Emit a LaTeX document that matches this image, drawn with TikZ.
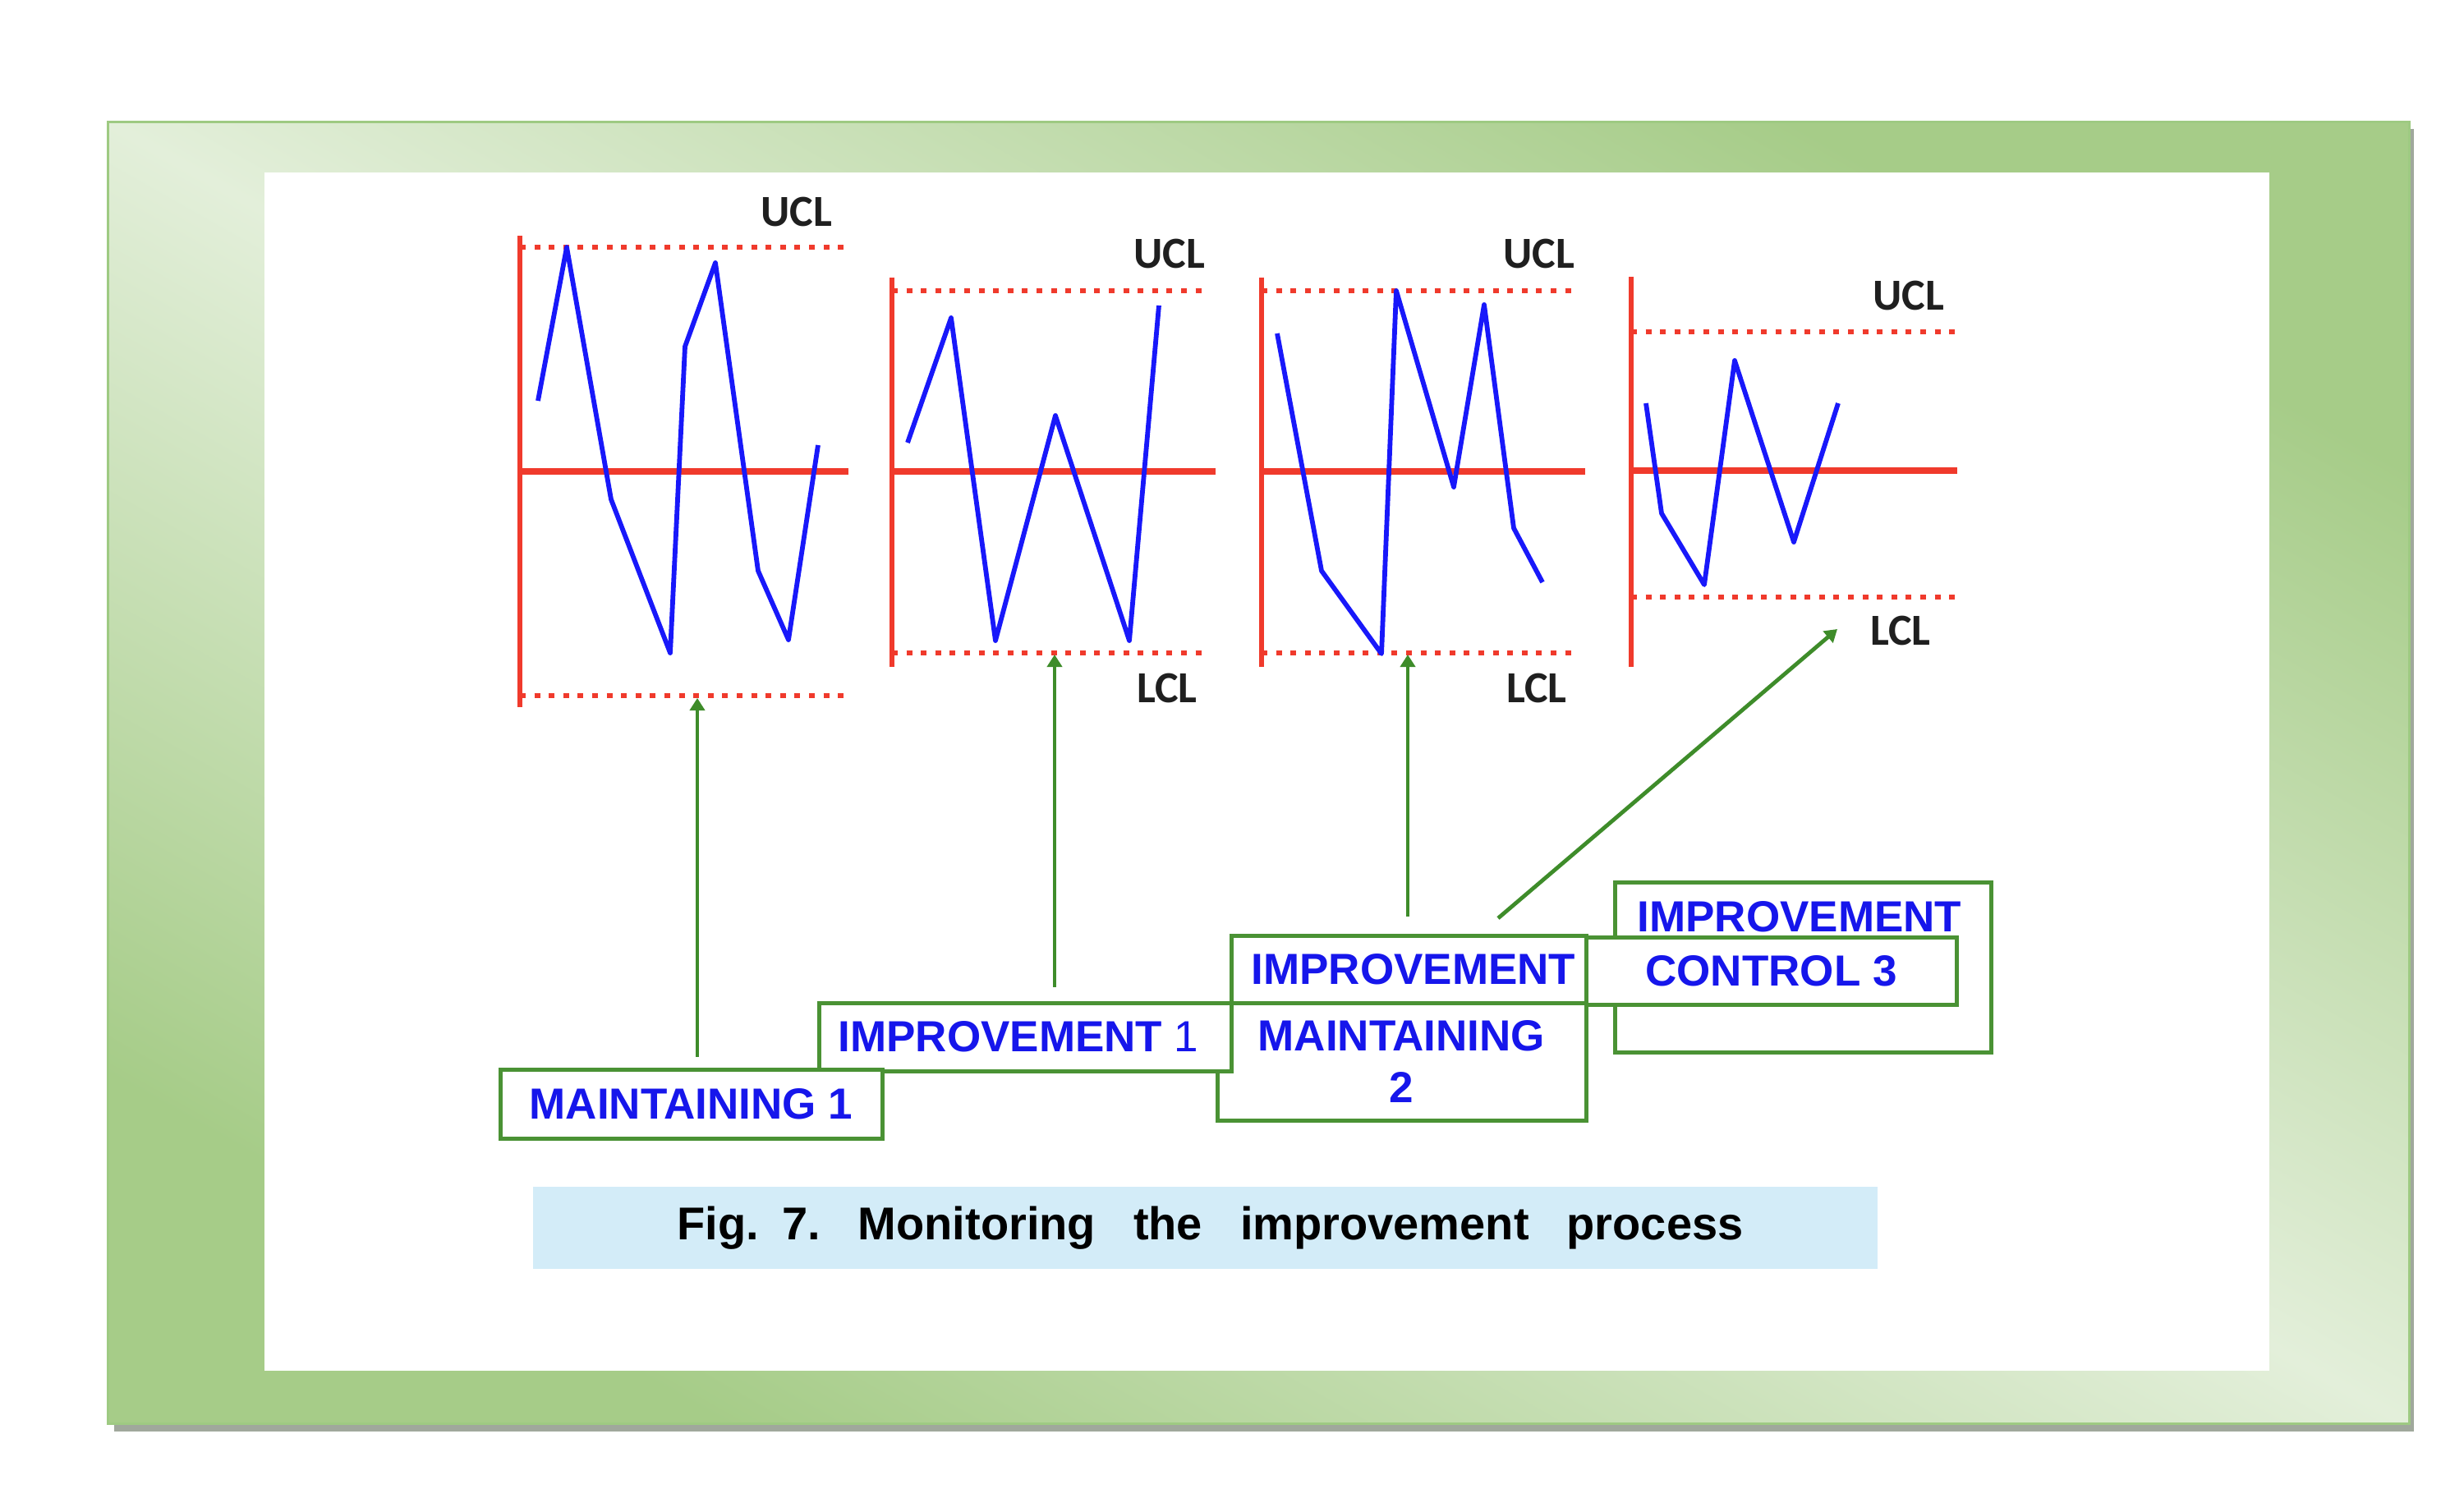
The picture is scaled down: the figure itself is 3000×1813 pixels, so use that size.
\documentclass[tikz,border=0pt]{standalone}
\usepackage{fontspec}
\setmainfont{Liberation Sans}
\newfontfamily\lblfont{Carlito}
\usetikzlibrary{arrows.meta}
\definecolor{frameL}{RGB}{227,239,218}
\definecolor{frameG}{RGB}{166,204,136}
\definecolor{frameB}{RGB}{158,202,130}
\definecolor{shadowC}{RGB}{160,168,156}
\definecolor{chartred}{RGB}{240,58,44}
\definecolor{chartblue}{RGB}{24,24,250}
\definecolor{boxgreen}{RGB}{74,146,52}
\definecolor{arrgreen}{RGB}{62,140,42}
\definecolor{txtblue}{RGB}{22,22,235}
\definecolor{capblue}{RGB}{211,236,248}
\pgfdeclareverticalshading{frameshade}{100bp}{color(0bp)=(frameG); color(25bp)=(frameG); color(50bp)=(frameL); color(75bp)=(frameG); color(100bp)=(frameG)}
\begin{document}
\begin{tikzpicture}[x=0.5pt,y=-0.5pt,
  redaxis/.style={draw=chartred,line width=3pt},
  redmid/.style={draw=chartred,line width=4pt},
  reddot/.style={draw=chartred,line width=3.4pt,dash pattern=on 3.5pt off 5.3pt},
  bluepath/.style={draw=chartblue,line width=2.9pt,line join=round},
  lim/.style={font=\lblfont\bfseries\fontsize{27}{32}\selectfont,text=black!88,inner sep=0pt},
  stage/.style={draw=boxgreen,line width=2.5pt,fill=white,inner sep=0pt,font=\bfseries\fontsize{26.5}{31.5}\selectfont,text=txtblue,align=center},
  conn/.style={draw=arrgreen,line width=2.4pt,-{Triangle[length=7.5pt,width=9pt]}},
]
\useasboundingbox (0,0) rectangle (3000,1813);
\fill[white] (0,0) rectangle (3000,1813);
% frame
\fill[shadowC] (139,157) rectangle (2939,1743);
\shade[shading=frameshade,shading angle=-29.5] (131,149) rectangle (2933,1733);
\draw[frameB,line width=1.5pt] (131,149) rectangle (2933,1733);
\fill[white] (322,210) rectangle (2763,1669);

% chart 1
\draw[reddot] (633,301) -- (1027,301);
\draw[reddot] (633,847) -- (1027,847);
\draw[redmid] (633,574) -- (1033,574);
\draw[redaxis] (633,287) -- (633,861);
\draw[bluepath] (655,488) -- (690,301) -- (744,608) -- (816,795) -- (834,422) -- (871,320) -- (923,695) -- (960,779) -- (996,542);
\node[lim] (u1) at (970,258) {UCL};

% chart 2
\draw[reddot] (1086,354) -- (1472,354);
\draw[reddot] (1086,795) -- (1472,795);
\draw[redmid] (1086,574) -- (1480,574);
\draw[redaxis] (1086,338) -- (1086,812);
\draw[bluepath] (1105,539) -- (1158,387) -- (1212,780) -- (1285,506) -- (1375,780) -- (1411,372);
\node[lim] (u2) at (1424,309) {UCL};
\node[lim] (l2) at (1421,838) {LCL};

% chart 3
\draw[reddot] (1536,354) -- (1923,354);
\draw[reddot] (1536,795) -- (1923,795);
\draw[redmid] (1536,574) -- (1930,574);
\draw[redaxis] (1536,338) -- (1536,812);
\draw[bluepath] (1555,406) -- (1609,695) -- (1682,796) -- (1700,354) -- (1770,593) -- (1807,371) -- (1843,643) -- (1878,709);
\node[lim] (u3) at (1874,309) {UCL};
\node[lim] (l3) at (1871,838) {LCL};

% chart 4
\draw[reddot] (1986,404) -- (2380,404);
\draw[reddot] (1986,727) -- (2380,727);
\draw[redmid] (1986,573) -- (2383,573);
\draw[redaxis] (1986,337) -- (1986,812);
\draw[bluepath] (2004,491) -- (2023,625) -- (2075,712) -- (2112,439) -- (2184,660) -- (2238,491);
\node[lim] (u4) at (2324,360) {UCL};
\node[lim] (l4) at (2314,768) {LCL};

% stage boxes
\node[stage,minimum width=224.5pt,minimum height=71.5pt] (m2) at (1706.5,1292.5) {MAINTAINING\\2};
\node[stage,minimum width=216pt,minimum height=41pt] (i2) at (1715,1180) {\hspace*{6pt}IMPROVEMENT};
\node[stage,minimum width=251pt,minimum height=41.5pt] (i1) at (1248,1262.5) {IMPROVEMENT {\mdseries 1}\hspace*{8pt}};
\node[stage,minimum width=232.5pt,minimum height=42pt] (m1) at (841.5,1344) {MAINTAINING 1};
\node[stage,minimum width=229pt,minimum height=103.5pt] (i3) at (2195,1177.5) {};
\node[font=\bfseries\fontsize{26.5}{31.5}\selectfont,text=txtblue,inner sep=0pt] (i3t) at (2191,1116) {IMPROVEMENT};
\node[stage,minimum width=225.5pt,minimum height=41pt] (c3) at (2156.5,1182) {CONTROL 3};

% connectors
\coordinate (a1e) at (849,850);
\coordinate (a2e) at (1284,797);
\coordinate (a3e) at (1714,797);
\coordinate (a4e) at (2237,766);
\coordinate (a4s) at (1824,1118);
\draw[conn,shorten <=6.5pt] (m1.north -| a1e) -- (a1e);
\draw[conn,shorten <=8.5pt] (i1.north -| a2e) -- (a2e);
\draw[conn,shorten <=10.5pt] (i2.north -| a3e) -- (a3e);
\draw[conn] (a4s) -- (a4e);

% caption
\node[fill=capblue,minimum width=818.5pt,minimum height=50pt,inner sep=0pt,font=\bfseries\fontsize{28}{33}\selectfont,text=black] (cap) at (1467.5,1495) {\hspace*{6pt}Fig.\hspace{14pt}7.\hspace{23pt}Monitoring\hspace{23pt}the\hspace{23pt}improvement\hspace{23pt}process};
\end{tikzpicture}
\end{document}
